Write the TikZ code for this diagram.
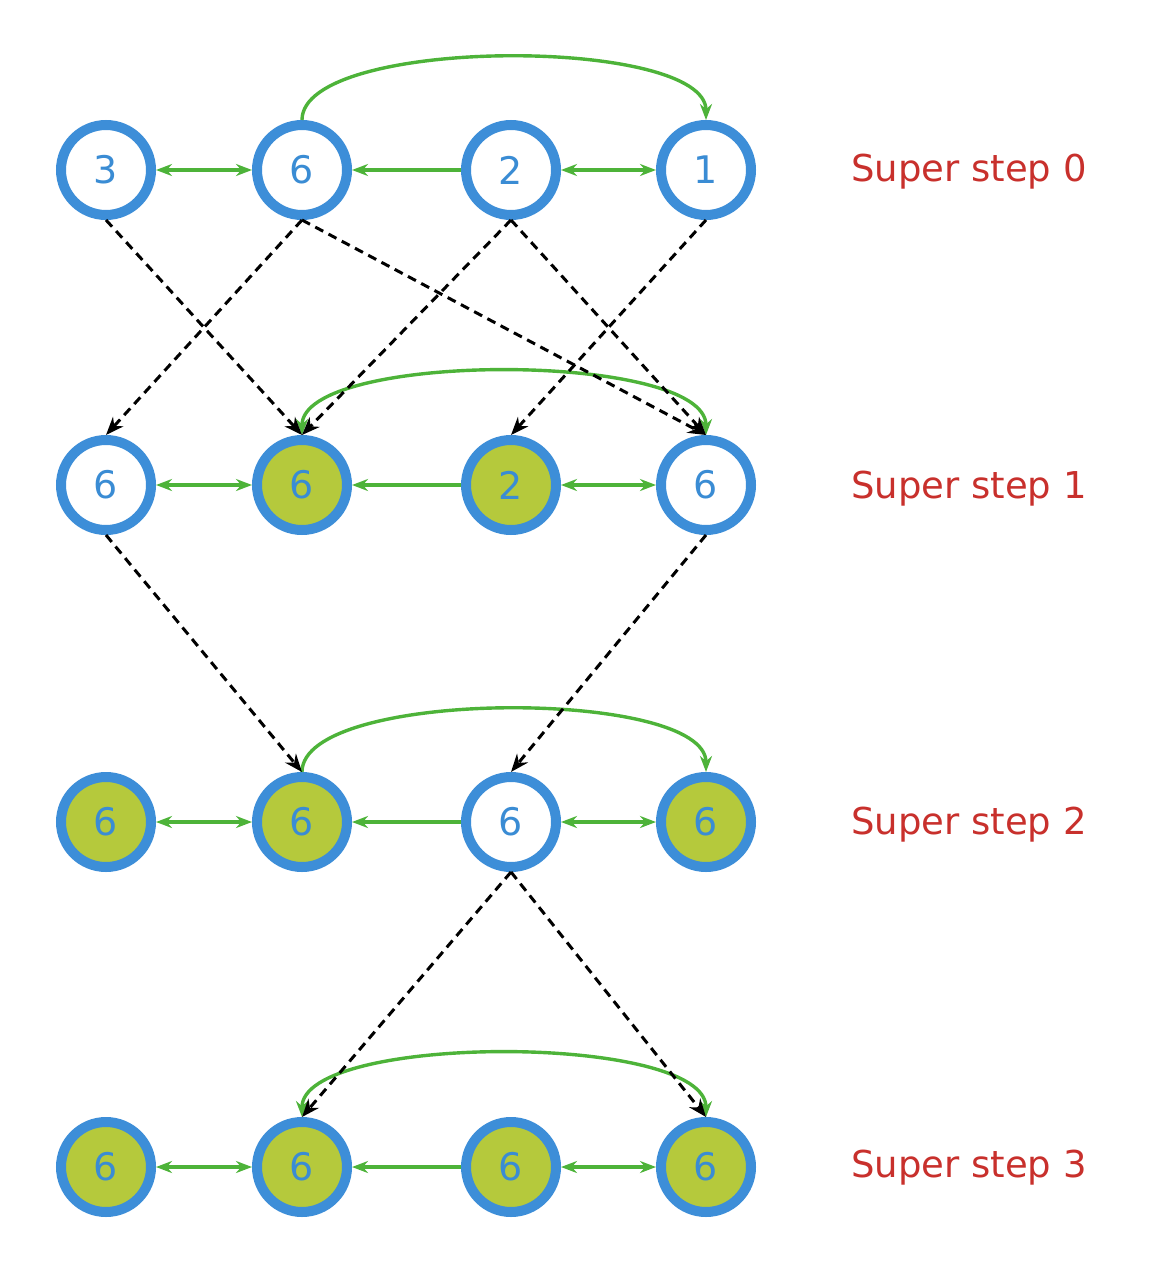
\documentclass[tikz,border=0pt]{standalone}
\usepackage{fontspec}
\setmainfont{DejaVu Sans}
\usetikzlibrary{arrows.meta,calc}
\definecolor{ringblue}{HTML}{3D8ED8}
\definecolor{digitblue}{HTML}{3A8CD4}
\definecolor{leaf}{HTML}{B5C93C}
\definecolor{edgegreen}{HTML}{4DB339}
\definecolor{labelred}{HTML}{C8302C}
\begin{document}
\begin{tikzpicture}[x=1pt,y=-1pt,
  vtx/.style={circle,draw=ringblue,line width=10pt,minimum size=90pt,inner sep=0pt,
    fill=white,text=digitblue,font=\fontsize{38}{44}\selectfont},
  done/.style={vtx,fill=leaf},
  link/.style={draw=edgegreen,line width=3.4pt,-{Stealth[length=16pt,width=12pt]}},
  both/.style={draw=edgegreen,line width=3.4pt,{Stealth[length=16pt,width=12pt]}-{Stealth[length=16pt,width=12pt]}},
  msg/.style={draw=black,line width=3pt,dash pattern=on 9pt off 6pt,
    -{Stealth[length=18pt,width=14pt]}},
  steplabel/.style={anchor=west,text=labelred,font=\fontsize{37}{44}\selectfont,inner sep=0pt}
]
\useasboundingbox (0,0) rectangle (1155,1279);

% super step 0
\node[vtx]  (a1) at (106,170) {3};
\node[vtx]  (a2) at (302,170) {6};
\node[vtx]  (a3) at (511,170) {2};
\node[vtx]  (a4) at (706,170) {1};
% super step 1
\node[vtx]  (b1) at (106,485) {6};
\node[done] (b2) at (302,485) {6};
\node[done] (b3) at (511,485) {2};
\node[vtx]  (b4) at (706,485) {6};
% super step 2
\node[done] (c1) at (106,822) {6};
\node[done] (c2) at (302,822) {6};
\node[vtx]  (c3) at (511,822) {6};
\node[done] (c4) at (706,822) {6};
% super step 3
\node[done] (d1) at (106,1167) {6};
\node[done] (d2) at (302,1167) {6};
\node[done] (d3) at (511,1167) {6};
\node[done] (d4) at (706,1167) {6};

% step labels
\node[steplabel] (l0) at (851,172) {Super step 0};
\node[steplabel] (l1) at (851,489) {Super step 1};
\node[steplabel] (l2) at (851,825) {Super step 2};
\node[steplabel] (l3) at (851,1168) {Super step 3};

% graph edges in every step
\foreach \r in {a,b,c,d}{
  \draw[both] (\r1) -- (\r2);
  \draw[link] (\r3) -- (\r2);
  \draw[both] (\r3) -- (\r4);
}
\draw[link] (a2.north) .. controls +(0,-84) and +(0,-84) .. (a4.north);
\draw[both] (b2.north) .. controls +(0,-84) and +(0,-84) .. (b4.north);
\draw[link] (c2.north) .. controls +(0,-84) and +(0,-84) .. (c4.north);
\draw[both] (d2.north) .. controls +(0,-84) and +(0,-84) .. (d4.north);

% messages between supersteps
\draw[msg] (a1.south) -- (b2.north);
\draw[msg] (a2.south) -- (b1.north);
\draw[msg] (a2.south) -- (b4.north);
\draw[msg] (a3.south) -- (b2.north);
\draw[msg] (a3.south) -- (b4.north);
\draw[msg] (a4.south) -- (b3.north);
\draw[msg] (b1.south) -- (c2.north);
\draw[msg] (b4.south) -- (c3.north);
\draw[msg] (c3.south) -- (d2.north);
\draw[msg] (c3.south) -- (d4.north);
\end{tikzpicture}
\end{document}
